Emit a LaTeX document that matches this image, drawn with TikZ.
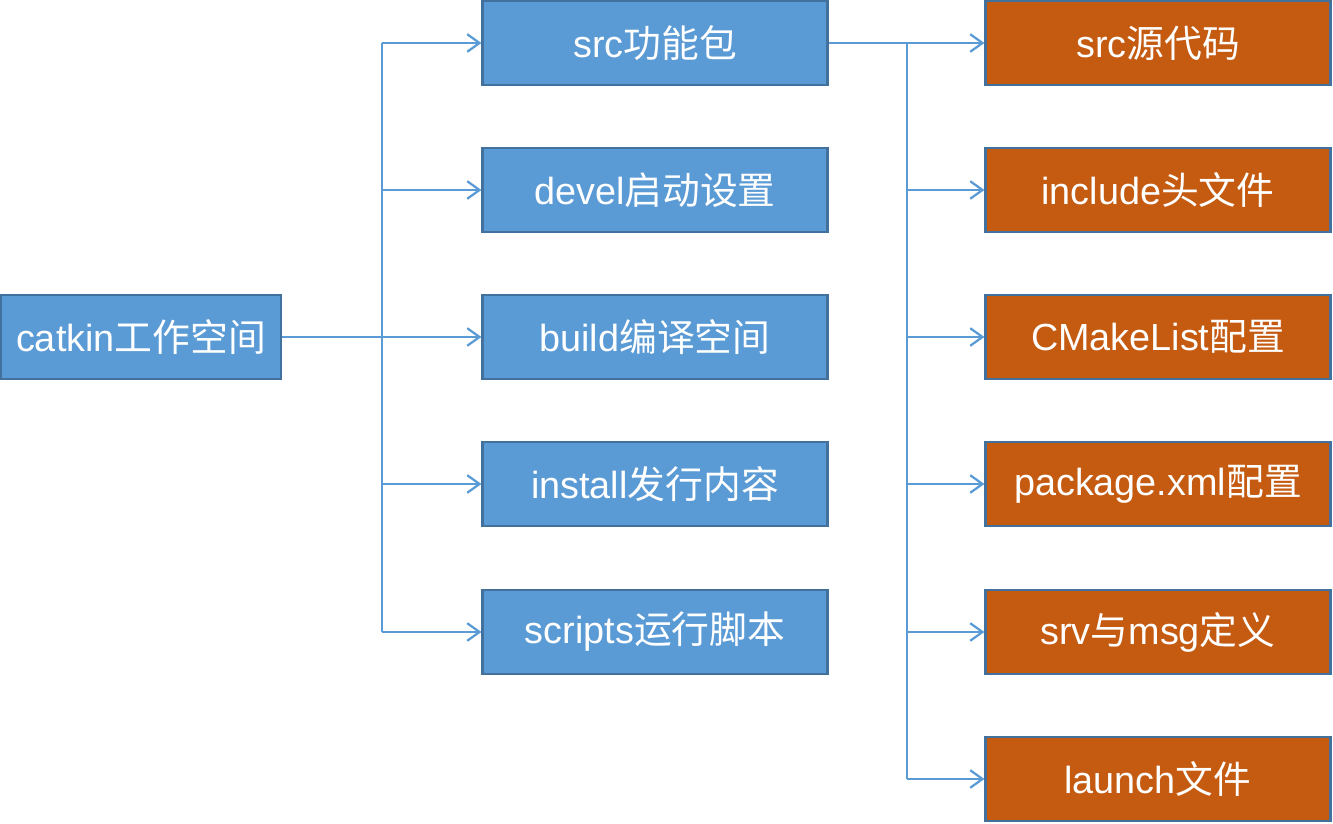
\documentclass[tikz,border=0pt]{standalone}
\usepackage{fontspec}
\setmainfont{Liberation Sans}
\newfontfamily\cjk{Noto Sans CJK SC}
\usetikzlibrary{arrows.meta}
\definecolor{boxblue}{HTML}{5B9BD5}
\definecolor{boxorange}{HTML}{C55A11}
\definecolor{boxedge}{HTML}{41719C}
\begin{document}
\begin{tikzpicture}[x=0.02cm, y=-0.02cm, >={Straight Barb[length=7pt,width=10pt]},
    % Stil für die Ordner-Knoten
        folder/.style={rectangle, draw=boxedge, line width=1.2pt, fill=boxblue, text=white, minimum width=6.9cm, minimum height=1.68cm, inner sep=0pt, font=\fontsize{21.5}{24}\selectfont},
        pkgitem/.style={folder, fill=boxorange},
    % Stil für die Verbindungen
        link/.style={draw=boxblue, line width=1.3pt}]
        \useasboundingbox (0,0) rectangle (1333,824);

        % Arbeitsraum und Ordner
        \node[folder, minimum width=5.6cm] (ws) at (141,337) {catkin{\cjk 工作空间}};
        \node[folder] (src) at (655,43) {src{\cjk 功能包}};
        \node[folder] (devel) at (655,190) {devel{\cjk 启动设置}};
        \node[folder] (build) at (655,337) {build{\cjk 编译空间}};
        \node[folder] (install) at (655,484) {install{\cjk 发行内容}};
        \node[folder] (scripts) at (655,632) {scripts{\cjk 运行脚本}};

        % Inhalt des Pakets
        \node[pkgitem] (code) at (1158,43) {src{\cjk 源代码}};
        \node[pkgitem] (incl) at (1158,190) {include{\cjk 头文件}};
        \node[pkgitem] (cmake) at (1158,337) {CMakeList{\cjk 配置}};
        \node[pkgitem] (pkgxml) at (1158,484) {package.xml{\cjk 配置}};
        \node[pkgitem] (srvmsg) at (1158,632) {srv{\cjk 与}msg{\cjk 定义}};
        \node[pkgitem] (launch) at (1158,779) {launch{\cjk 文件}};

        % Verzweigungen
        \coordinate (wsbus) at (382,337);
        \coordinate (srcbus) at (907,43);
        \draw[link] (ws.east) -- (wsbus);
        \draw[link] (src.east) -- (srcbus);
        \draw[link] (wsbus |- src) -- (wsbus |- scripts);
        \draw[link] (srcbus) -- (srcbus |- launch);
        \foreach \n in {src,devel,build,install,scripts}
            \draw[link,->] (wsbus |- \n) -- (\n.west);
        \foreach \n in {code,incl,cmake,pkgxml,srvmsg,launch}
            \draw[link,->] (srcbus |- \n) -- (\n.west);
    \end{tikzpicture}
\end{document}
